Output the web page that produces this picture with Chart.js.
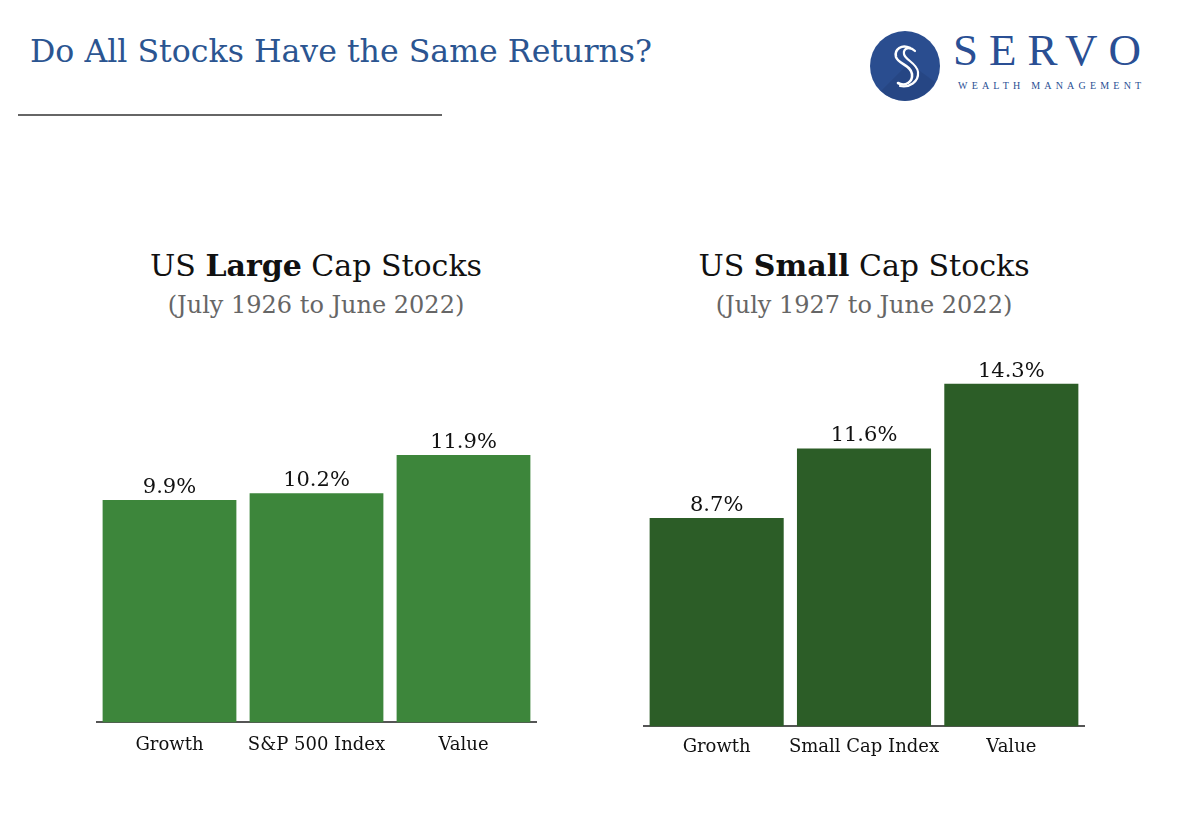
<!DOCTYPE html>
<html>
<head>
<meta charset="utf-8">
<script src="https://cdn.jsdelivr.net/npm/chart.js@4"></script>
<style>
  body { margin: 0; width: 1200px; height: 829px; background: #fff; position: relative; overflow: hidden; font-family: "DejaVu Serif", serif; }
  .abs { position: absolute; }
  #mainTitle { left: 30px; top: 33px; font-size: 31.6px; color: #2b5591; white-space: nowrap; }
  #rule { left: 18px; top: 114px; width: 424px; height: 2px; background: #666; }
  .ctitle { width: 560px; text-align: center; font-size: 30px; color: #111; white-space: nowrap; }
  .csub { width: 560px; text-align: center; font-size: 24px; color: #666; white-space: nowrap; }
  #servo { left: 953px; top: 28px; font-family: "Liberation Serif", serif; font-size: 45px; letter-spacing: 11px; color: #2a4f94; line-height: 1; }
  #wealth { left: 958px; top: 80px; font-family: "Liberation Serif", serif; font-size: 10px; letter-spacing: 4.2px; color: #2a4f94; white-space: nowrap; }
</style>
</head>
<body>
<div id="mainTitle" class="abs">Do All Stocks Have the Same Returns?</div>
<div id="rule" class="abs"></div>

<svg class="abs" style="left:869px;top:30px" width="72" height="72" viewBox="0 0 72 72">
  <circle cx="36" cy="36" r="35" fill="#2a4d8f"/>
  <path d="M36 71 A35 35 0 0 1 12 61 L40 33 L66 52 A35 35 0 0 1 36 71 Z" fill="#24437d" opacity="0.6"/>
  <path d="M41 18 C33 14 25 19 27 27 C29 34 42 35 43 44 C44 52 36 57 29 53" fill="none" stroke="#fff" stroke-width="2.6" stroke-linecap="round"/>
  <path d="M46 21 C41 16 34 18 35 24 C36 30 48 33 49 42 C50 52 40 58 31 56" fill="none" stroke="#fff" stroke-width="2.2" stroke-linecap="round"/>
</svg>
<div id="servo" class="abs">SERVO</div>
<div id="wealth" class="abs">WEALTH MANAGEMENT</div>

<div class="abs ctitle" style="left:36px;top:248px">US <b>Large</b> Cap Stocks</div>
<div class="abs csub" style="left:36px;top:291px">(July 1926 to June 2022)</div>
<div class="abs ctitle" style="left:584px;top:248px">US <b>Small</b> Cap Stocks</div>
<div class="abs csub" style="left:584px;top:291px">(July 1927 to June 2022)</div>

<canvas id="largeChart" class="abs" style="left:96px;top:340px" width="441" height="440"></canvas>
<canvas id="smallChart" class="abs" style="left:643px;top:320px" width="442" height="460"></canvas>

<script>
const largeCats = ["Growth", "S&P 500 Index", "Value"];
const largeVals = [9.9, 10.2, 11.9];
const smallCats = ["Growth", "Small Cap Index", "Value"];
const smallVals = [8.7, 11.6, 14.3];

const largeColor = "#3d863b";
const smallColor = "#2c5d27";

// percent labels over each bar
const valueLabels = {
  id: "valueLabels",
  afterDatasetsDraw(chart) {
    const ctx = chart.ctx;
    const meta = chart.getDatasetMeta(0);
    const data = chart.data.datasets[0].data;
    ctx.save();
    ctx.font = "21px 'DejaVu Serif'";
    ctx.fillStyle = "#111";
    ctx.textAlign = "center";
    ctx.textBaseline = "alphabetic";
    meta.data.forEach((bar, i) => {
      ctx.fillText(data[i].toFixed(1) + "%", bar.x, bar.y - 7);
    });
    ctx.restore();
  },
};

function makeChart(id, labels, values, color, pad, tickPad) {
  return new Chart(document.getElementById(id), {
    type: "bar",
    data: {
      labels: labels,
      datasets: [
        {
          data: values,
          backgroundColor: color,
          borderWidth: 0,
          barPercentage: 0.91,
          categoryPercentage: 1,
        },
      ],
    },
    options: {
      responsive: false,
      animation: false,
      layout: { padding: pad },
      plugins: { legend: { display: false }, tooltip: { enabled: false } },
      scales: {
        x: {
          grid: { display: false, drawTicks: false },
          border: { display: true, color: "#555", width: 2 },
          ticks: {
            color: "#111",
            padding: tickPad,
            maxRotation: 0,
            autoSkip: false,
            font: { family: "DejaVu Serif", size: 18 },
          },
        },
        y: { display: false, min: 0, max: 16 },
      },
    },
    plugins: [valueLabels],
  });
}

makeChart("largeChart", largeCats, largeVals, largeColor, { top: 23, bottom: 12, left: 0, right: 0 }, 12);
makeChart("smallChart", smallCats, smallVals, smallColor, { top: 23, bottom: 12, left: 0, right: 0 }, 10);
</script>
</body>
</html>
